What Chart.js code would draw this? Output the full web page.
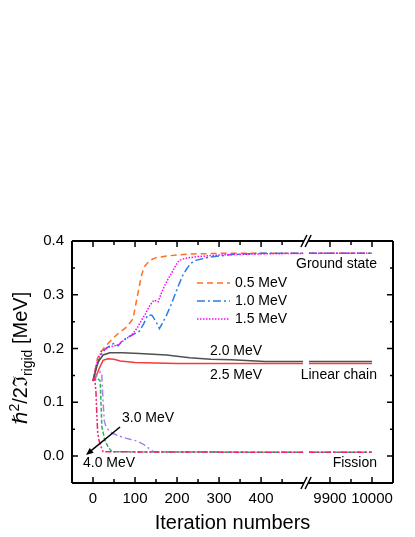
<!DOCTYPE html>
<html><head><meta charset="utf-8">
<script src="https://cdn.jsdelivr.net/npm/chart.js@4"></script>
<style>html,body{margin:0;padding:0;background:#fff}#wrap{width:415px;height:537px}</style>
</head><body><div id="wrap"><canvas id="c" width="415" height="537"></canvas></div>
<script>
// ---- data (iteration number, value) ----
const seriesNames = ['0.5 MeV','1.0 MeV','1.5 MeV','2.0 MeV','2.5 MeV','3.0 MeV','3.5 MeV','4.0 MeV'];
const iter05 = [0,5,10,15,25,45,60,80,95,100,105,110,115,122,135,150,175,200,240,300,400,500,9850,10000];
const val05  = [0.14,0.16,0.18,0.19,0.2,0.217,0.228,0.24,0.255,0.275,0.295,0.315,0.335,0.352,0.364,0.369,0.372,0.374,0.376,0.377,0.377,0.377,0.377,0.377];
const iter10 = [0,5,10,20,30,40,50,60,70,85,100,110,120,130,140,150,158,165,175,185,195,205,213,222,232,245,270,300,330,400,500,9850,10000];
const val10  = [0.14,0.155,0.17,0.19,0.2,0.205,0.21,0.205,0.215,0.222,0.228,0.232,0.245,0.262,0.262,0.25,0.237,0.247,0.262,0.28,0.3,0.32,0.335,0.347,0.358,0.364,0.369,0.372,0.375,0.377,0.377,0.377,0.377];
const iter15 = [0,5,10,20,40,60,75,92,105,115,125,135,145,155,165,177,189,198,205,220,250,300,400,500,9850,10000];
const val15  = [0.14,0.16,0.175,0.195,0.203,0.207,0.216,0.225,0.238,0.252,0.265,0.28,0.29,0.287,0.308,0.327,0.343,0.356,0.364,0.368,0.371,0.374,0.376,0.377,0.377,0.377];
const iter20 = [0,5,12,24,40,70,110,175,230,280,330,410,500,9850,10000];
const val20  = [0.14,0.155,0.175,0.188,0.192,0.192,0.191,0.188,0.183,0.18,0.179,0.176,0.176,0.176,0.176];
const iter25 = [0,8,16,24,35,50,65,100,150,200,500,9850,10000];
const val25  = [0.14,0.15,0.165,0.178,0.181,0.18,0.177,0.174,0.173,0.172,0.172,0.172,0.172];
const iter30 = [0,10,18,21,24,27,32,45,60,75,90,105,120,135,145,500,9850,10000];
const val30  = [0.14,0.15,0.157,0.15,0.1,0.065,0.052,0.043,0.038,0.034,0.031,0.028,0.022,0.013,0.008,0.007,0.007,0.007];
const iter35 = [0,10,17,19,21,28,36,45,500,9850,10000];
const val35  = [0.14,0.145,0.14,0.1,0.055,0.03,0.017,0.008,0.007,0.007,0.007];
const iter40 = [0,4,7,9,11,14,18,24,500,9850,10000];
const val40  = [0.14,0.145,0.12,0.08,0.045,0.03,0.02,0.008,0.007,0.007,0.007];

const xTickLabels = [0,100,200,300,400,9900,10000];
const xMinorTicks = [50,150,250,350,450,9950];
const yTickLabels = [0,0.1,0.2,0.3,0.4];
const yMinorTicks = [0.05,0.15,0.25,0.35];

// ---- broken x axis: [-50,500] | [9850,10050] ----
const BREAK_LO = 500, BREAK_HI = 9850, GAP = 14;
function mapX(i){ return i <= BREAK_LO ? i : i - BREAK_HI + BREAK_LO + GAP; }
function unmapX(d){ return d <= BREAK_LO ? d : d + BREAK_HI - BREAK_LO - GAP; }
const X_MIN = -50, X_MAX = mapX(10050);

function pts(it, va){
  const out = [];
  for (let k=0;k<it.length;k++){
    if (k>0 && it[k-1] <= BREAK_LO && it[k] > BREAK_LO) out.push({x: BREAK_LO + GAP/2, y: null});
    out.push({x: mapX(it[k]), y: va[k]});
  }
  return out;
}

const styles = [
  {c:'#ff6f1f', d:[6,4]},
  {c:'#2a7de6', d:[8,3,2,3]},
  {c:'#ff00ff', d:[1.5,1.5]},
  {c:'#505050', d:[]},
  {c:'#f23c3c', d:[]},
  {c:'#a884e8', d:[7,3,2,3]},
  {c:'#2fb060', d:[4,2]},
  {c:'#f5206f', d:[6,2,2,2,2,2]}
];
const allIters = [iter05,iter10,iter15,iter20,iter25,iter30,iter35,iter40];
const allVals  = [val05,val10,val15,val20,val25,val30,val35,val40];

const datasets = seriesNames.map((n,k)=>({
  label:n, data:pts(allIters[k], allVals[k]),
  borderColor:styles[k].c, borderDash:styles[k].d, borderWidth:1.5,
  pointRadius:0, tension:0, spanGaps:false, fill:false
}));
// draw ground state on top of linear chain etc. order: fission first
datasets.reverse();

const FONT = '"Liberation Sans", Arial, sans-serif';

const deco = {
  id:'deco',
  afterDraw(chart){
    const ctx = chart.ctx, a = chart.chartArea, x = chart.scales.x, y = chart.scales.y;
    ctx.save();
    ctx.strokeStyle = '#000'; ctx.fillStyle = '#000'; ctx.lineWidth = 2; ctx.setLineDash([]);
    const gL = x.getPixelForValue(BREAK_LO + 2), gR = x.getPixelForValue(BREAK_LO + GAP - 2);
    // frame
    ctx.beginPath();
    ctx.moveTo(a.left, a.top); ctx.lineTo(a.left, a.bottom);
    ctx.moveTo(a.right, a.top); ctx.lineTo(a.right, a.bottom);
    ctx.moveTo(a.left, a.top); ctx.lineTo(gL, a.top);
    ctx.moveTo(gR, a.top); ctx.lineTo(a.right, a.top);
    ctx.moveTo(a.left, a.bottom); ctx.lineTo(gL, a.bottom);
    ctx.moveTo(gR, a.bottom); ctx.lineTo(a.right, a.bottom);
    ctx.stroke();
    // break marks
    ctx.lineWidth = 1.5;
    ctx.beginPath();
    [a.top, a.bottom].forEach(yy=>{
      [gL, gR].forEach(xx=>{ ctx.moveTo(xx-3, yy+6); ctx.lineTo(xx+3, yy-6); });
    });
    ctx.stroke();
    // ticks (inward)
    ctx.lineWidth = 1.5;
    ctx.beginPath();
    xTickLabels.forEach(v=>{ const p = x.getPixelForValue(mapX(v));
      ctx.moveTo(p, a.bottom); ctx.lineTo(p, a.bottom-6);
      ctx.moveTo(p, a.top); ctx.lineTo(p, a.top+6); });
    xMinorTicks.forEach(v=>{ const p = x.getPixelForValue(mapX(v));
      ctx.moveTo(p, a.bottom); ctx.lineTo(p, a.bottom-4);
      ctx.moveTo(p, a.top); ctx.lineTo(p, a.top+4); });
    yTickLabels.forEach(v=>{ const p = y.getPixelForValue(v);
      ctx.moveTo(a.left, p); ctx.lineTo(a.left+6, p);
      ctx.moveTo(a.right, p); ctx.lineTo(a.right-6, p); });
    yMinorTicks.forEach(v=>{ const p = y.getPixelForValue(v);
      ctx.moveTo(a.left, p); ctx.lineTo(a.left+3, p);
      ctx.moveTo(a.right, p); ctx.lineTo(a.right-3, p); });
    ctx.stroke();

    // legend samples
    const legY = [283, 301, 319];
    [0,1,2].forEach(k=>{
      ctx.strokeStyle = styles[k].c; ctx.lineWidth = 1.5; ctx.setLineDash(styles[k].d);
      ctx.beginPath(); ctx.moveTo(197, legY[k]); ctx.lineTo(230, legY[k]); ctx.stroke();
    });
    ctx.setLineDash([]);
    ctx.fillStyle = '#000';
    ctx.font = '14px ' + FONT; ctx.textBaseline = 'middle'; ctx.textAlign = 'left';
    [0,1,2].forEach(k=> ctx.fillText(seriesNames[k], 235, legY[k]));
    ctx.fillText('2.0 MeV', 210, 351);
    ctx.fillText('2.5 MeV', 210, 375);
    ctx.fillText('3.0 MeV', 122, 418);
    ctx.fillText('4.0 MeV', 83, 463);
    ctx.textAlign = 'right';
    ctx.fillText('Ground state', 377, 264);
    ctx.fillText('Linear chain', 377, 375);
    ctx.fillText('Fission', 377, 463);

    // arrow
    ctx.strokeStyle = '#000'; ctx.lineWidth = 1.5;
    const x0=120,y0=427,x1=86,y1=455;
    ctx.beginPath(); ctx.moveTo(x0,y0); ctx.lineTo(x1+4,y1-3.3); ctx.stroke();
    const ang = Math.atan2(y1-y0, x1-x0), L=8, W=0.4;
    ctx.beginPath(); ctx.moveTo(x1,y1);
    ctx.lineTo(x1 - L*Math.cos(ang-W), y1 - L*Math.sin(ang-W));
    ctx.lineTo(x1 - L*Math.cos(ang+W), y1 - L*Math.sin(ang+W));
    ctx.closePath(); ctx.fill();

    // x title
    ctx.font = '20px ' + FONT; ctx.textAlign = 'center'; ctx.textBaseline = 'middle';
    ctx.fillText('Iteration numbers', (a.left+a.right)/2, 523);

    // y title with super/subscript
    ctx.translate(27, 358); ctx.rotate(-Math.PI/2);
    const big = '20px ' + FONT, small = '14px ' + FONT;
    const parts = [{t:'\u210F',f:'italic 20px "DejaVu Sans", ' + FONT,dy:0},{t:'2',f:small,dy:-8},{t:'/2\u2111',f:big,dy:0},{t:'rigid',f:small,dy:5},{t:' [MeV]',f:big,dy:0}];
    let w=0; parts.forEach(p=>{ ctx.font=p.f; p.w=ctx.measureText(p.t).width; w+=p.w; });
    let xx=-w/2; ctx.textAlign='left'; ctx.textBaseline='alphabetic';
    parts.forEach(p=>{ ctx.font=p.f; ctx.fillText(p.t, xx, p.dy); xx+=p.w; });
    ctx.restore();
  }
};

new Chart(document.getElementById('c'), {
  type:'line',
  data:{datasets},
  options:{
    responsive:false, animation:false, devicePixelRatio:1,
    layout:{padding:{top:241, right:22, left:0, bottom:0}},
    plugins:{legend:{display:false}, tooltip:{enabled:false}},
    scales:{
      x:{type:'linear', min:X_MIN, max:X_MAX,
        afterBuildTicks: s => { s.ticks = xTickLabels.map(v=>({value:mapX(v)})); },
        afterFit: s => { s.height = 54; },
        grid:{display:false, drawTicks:false}, border:{display:false},
        ticks:{autoSkip:false, maxRotation:0, padding:7, color:'#000', font:{size:15, family:FONT},
          callback: v => String(Math.round(unmapX(v)))}
      },
      y:{type:'linear', min:-0.05, max:0.4,
        afterBuildTicks: s => { s.ticks = yTickLabels.map(v=>({value:v})); },
        afterFit: s => { s.width = 72; },
        grid:{display:false, drawTicks:false}, border:{display:false},
        ticks:{padding:8, color:'#000', font:{size:15, family:FONT}, callback: v => Number(v).toFixed(1)}
      }
    }
  },
  plugins:[deco]
});
</script></body></html>
